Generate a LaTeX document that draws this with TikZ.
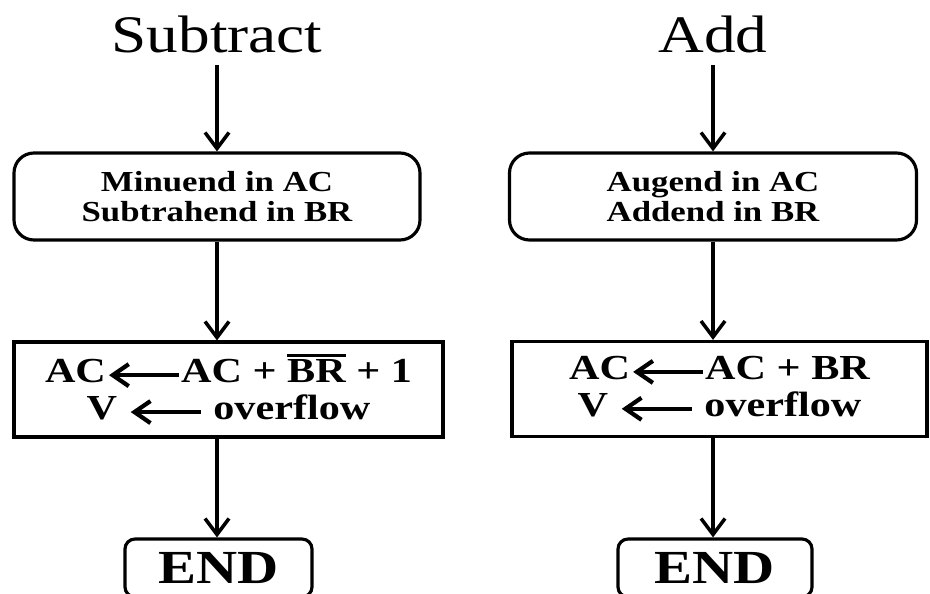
\documentclass[tikz,border=0pt]{standalone}
\usepackage{fontspec}
\setmainfont{Liberation Serif}[FakeStretch=1.2]
\usetikzlibrary{arrows.meta}
\newcommand{\lgets}{\tikz[baseline=0pt]\draw[<-,line width=2.4pt,>={Straight Barb[length=0.32cm,width=0.44cm]}] (0,0.15) -- (1.4,0.15);}
\newcommand{\barred}[1]{\vbox{\hrule height 1.8pt\kern 1.5pt\hbox{#1}}}

\begin{document}
\begin{tikzpicture}[->,line width=2pt,>={Straight Barb[length=0.32cm,width=0.48cm]}]
    \tikzstyle{every edge}=[draw,line width=2pt]
    \tikzstyle{title}=[font=\fontsize{30}{36}\selectfont, anchor=base, inner sep=0pt]
    \tikzstyle{load}=[draw, line width=1.8pt, rounded corners=0.4cm, minimum height=1.74cm, inner sep=0pt, align=center, font=\bfseries\fontsize{16.5}{17.5}\selectfont]
    \tikzstyle{op}=[draw, line width=1.8pt, minimum height=1.9cm, inner sep=0pt, align=center, font=\bfseries\fontsize{20}{21}\selectfont]
    \tikzstyle{stop}=[draw, line width=1.8pt, rounded corners=0.2cm, minimum height=1.16cm, inner sep=0pt, font=\bfseries\fontsize{27}{30}\selectfont]
    \useasboundingbox (0,0) rectangle (18.6,-11.86);
    \node[title] (sub) at (4.34,-1.04)  {Subtract};
    \node[title] (add) at (14.26,-1.04) {Add};
    \coordinate (subtop) at (4.34,-1.3);
    \coordinate (addtop) at (14.26,-1.3);
    \node[load, minimum width=8.12cm] (subin) at (4.34,-3.93)  {Minuend in AC\\Subtrahend in BR};
    \node[load, minimum width=8.14cm] (addin) at (14.26,-3.93) {Augend in AC\\Addend in BR};
    \node[op, minimum width=8.58cm] (subop) at (4.57,-7.79)  {AC\lgets AC + \barred{BR} + 1\\V \lgets{} overflow};
    \node[op, minimum width=8.3cm]  (addop) at (14.39,-7.78) {AC\lgets AC + BR\\V \lgets{} overflow};
    \node[stop, minimum width=3.74cm] (subend) at (4.37,-11.36) {END};
    \node[stop, minimum width=3.88cm] (addend) at (14.3,-11.36) {END};

    \path
     (subtop) edge (subtop |- subin.north)
     (subin) edge (subin.south |- subop.north)
     (subin |- subop.south) edge (subin |- subend.north)
     (addtop) edge (addtop |- addin.north)
     (addin) edge (addin.south |- addop.north)
     (addin |- addop.south) edge (addin |- addend.north);
\end{tikzpicture}
\end{document}
